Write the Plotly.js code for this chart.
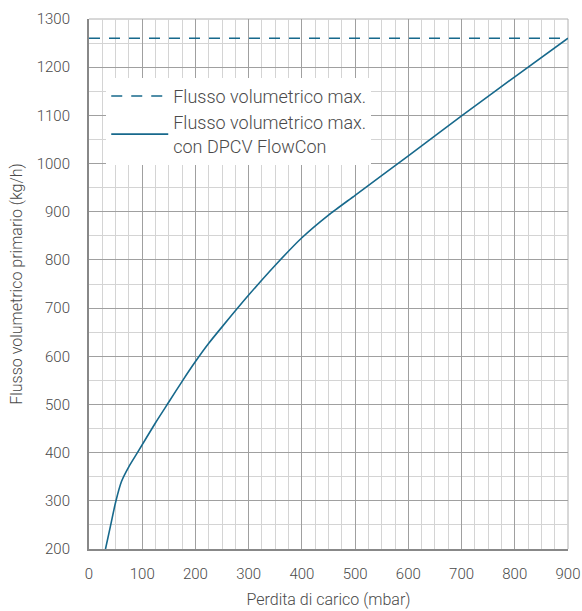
<!DOCTYPE html>
<html>
<head>
<meta charset="utf-8">
<script src="https://cdn.plot.ly/plotly-3.0.1.min.js"></script>
<style>html,body{margin:0;padding:0;background:#fff;}#chart{width:582px;height:611px;}</style>
</head>
<body>
<div id="chart"></div>
<script>
// Data
const maxFlowX = [0, 900];
const maxFlowY = [1260, 1260];
const flowConX = [31, 40, 50, 61, 75, 91, 125, 150, 175, 200, 225, 250, 300, 350, 400, 450, 500, 600, 700, 800, 900];
const flowConY = [200, 246, 297, 340, 371, 400, 462, 505, 548, 589, 627, 661, 727, 789, 846, 893, 934, 1016, 1099, 1180, 1260];
const seriesNames = ["Flusso volumetrico max.", "Flusso volumetrico max.<br>con DPCV FlowCon"];
const xTitle = "Perdita di carico (mbar)";
const yTitle = "Flusso volumetrico primario (kg/h)";

const lineColor = "#17698c";
const font = "Roboto, 'Open Sans', sans-serif";
const txt = "#4a4a4a";

const traces = [
  {x: maxFlowX, y: maxFlowY, mode: "lines", name: seriesNames[0],
   line: {color: lineColor, width: 1.6, dash: "11px,9px"}},
  {x: flowConX, y: flowConY, mode: "lines", name: seriesNames[1],
   line: {color: lineColor, width: 1.6, shape: "spline", smoothing: 0.6}}
];

const layout = {
  width: 582, height: 611,
  margin: {l: 89, r: 14, t: 19, b: 62},
  paper_bgcolor: "#fff", plot_bgcolor: "#fff",
  font: {family: font, size: 15, color: txt, weight: 300},
  showlegend: true,
  legend: {x: 0.036, y: 0.889, xanchor: "left", yanchor: "top",
           bgcolor: "#fff", borderwidth: 0, itemwidth: 57,
           font: {size: 18, color: txt, weight: 300},
           tracegroupgap: 0},
  xaxis: {range: [0, 900], dtick: 100, tick0: 0, ticks: "outside", ticklen: 10, tickcolor: "rgba(0,0,0,0)",
          showgrid: true, gridcolor: "#a0a0a0", gridwidth: 1,
          minor: {dtick: 25, showgrid: true, gridcolor: "#d4d4d4", gridwidth: 1},
          showline: true, linecolor: "#888", linewidth: 2, mirror: false,
          zeroline: false, tickfont: {size: 15, color: txt, weight: 300},
          title: {text: xTitle, font: {size: 16, color: txt, weight: 300}, standoff: 12}},
  yaxis: {range: [200, 1300], dtick: 100, tick0: 0, ticks: "outside", ticklen: 14, tickcolor: "rgba(0,0,0,0)",
          showgrid: true, gridcolor: "#a0a0a0", gridwidth: 1,
          minor: {dtick: 50, showgrid: true, gridcolor: "#d4d4d4", gridwidth: 1},
          showline: true, linecolor: "#888", linewidth: 2,
          zeroline: false, tickfont: {size: 15, color: txt, weight: 300},
          title: {text: yTitle, font: {size: 16, color: txt, weight: 300}, standoff: 10}},
  shapes: [
    {type: "line", xref: "paper", yref: "paper", x0: 1, x1: 1, y0: 0, y1: 1,
     line: {color: "#b0b0b0", width: 1}, layer: "below"},
    {type: "line", xref: "paper", yref: "paper", x0: 0, x1: 1, y0: 1, y1: 1,
     line: {color: "#b0b0b0", width: 1}, layer: "below"}
  ]
};

Plotly.newPlot("chart", traces, layout, {displayModeBar: false, staticPlot: true});
</script>
</body>
</html>
